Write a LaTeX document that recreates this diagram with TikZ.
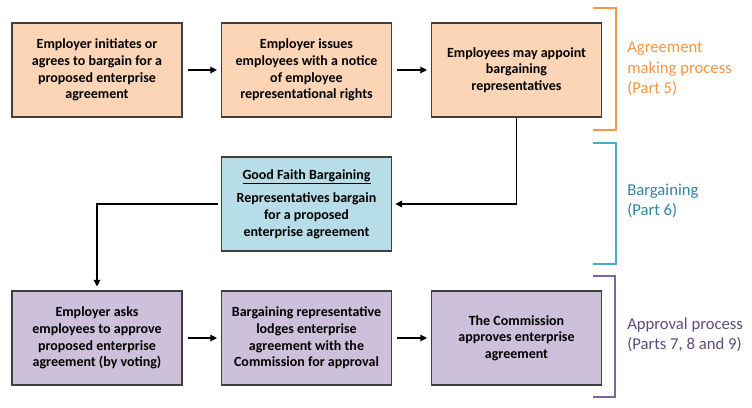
\documentclass[tikz,border=0pt]{standalone}
\usepackage{fontspec}
\setmainfont{Carlito}
\usetikzlibrary{arrows.meta}
\definecolor{peach}{HTML}{FBD5B5}
\definecolor{lblue}{HTML}{B7DEE8}
\definecolor{lpurple}{HTML}{CCC0DA}
\definecolor{orbr}{HTML}{F79646}
\definecolor{blbr}{HTML}{4BACC6}
\definecolor{bltx}{HTML}{31859C}
\definecolor{pubr}{HTML}{8064A2}
\definecolor{putx}{HTML}{604A7B}
\definecolor{edge}{HTML}{404040}
\tikzset{
  box/.style={draw=edge, line width=0.8pt, minimum width=127.5pt, minimum height=70.5pt,
    align=center, inner sep=0pt, font=\fontsize{10.5}{12.5}\selectfont\bfseries},
  conn/.style={line width=0.9pt, -{Triangle[length=5pt,width=5pt]}},
  brk/.style={line width=1.6pt},
  lbl/.style={anchor=west, align=left, inner sep=0pt, font=\fontsize{12.5}{15.4}\selectfont}
}
\begin{document}
\begin{tikzpicture}[x=0.75pt,y=-0.75pt]
\useasboundingbox (0,0) rectangle (752,407);
% top row
\node[box, fill=peach] (b1) at (97,70) {Employer initiates or\\agrees to bargain for a\\proposed enterprise\\agreement};
\node[box, fill=peach] (b2) at (306.5,70) {Employer issues\\employees with a notice\\of employee\\representational rights};
\node[box, fill=peach] (b3) at (516.5,70) {Employees may appoint\\bargaining\\representatives};
% middle
\node[box, fill=lblue] (gf) at (306.5,204) {\underline{Good Faith Bargaining}\\[5pt]Representatives bargain\\for a proposed\\enterprise agreement};
% bottom row
\node[box, fill=lpurple] (b4) at (97,338) {Employer asks\\employees to approve\\proposed enterprise\\agreement (by voting)};
\node[box, fill=lpurple] (b5) at (306.5,338) {Bargaining representative\\lodges enterprise\\agreement with the\\Commission for approval};
\node[box, fill=lpurple] (b6) at (516.5,338) {The Commission\\approves enterprise\\agreement};
% connectors
\draw[conn, shorten <=4pt, shorten >=3pt] (b1) -- (b2);
\draw[conn, shorten <=4pt, shorten >=3pt] (b2) -- (b3);
\draw[conn, shorten >=2.5pt] (b3.south) |- (gf.east);
\draw[conn, shorten <=2.5pt, shorten >=3pt] (gf.west) -| (b4.north);
\draw[conn, shorten <=4pt, shorten >=3pt] (b4) -- (b5);
\draw[conn, shorten <=4pt, shorten >=3pt] (b5) -- (b6);
% brackets
\coordinate (o1) at (593,8); \coordinate (o2) at (616,8); \coordinate (o3) at (616,130); \coordinate (o4) at (593,130);
\draw[brk, orbr] (o1) -- (o2) -- (o3) -- (o4);
\coordinate (c1) at (593,143); \coordinate (c2) at (616,143); \coordinate (c3) at (616,264); \coordinate (c4) at (593,264);
\draw[brk, blbr] (c1) -- (c2) -- (c3) -- (c4);
\coordinate (p1) at (593,276); \coordinate (p2) at (615,276); \coordinate (p3) at (615,397); \coordinate (p4) at (593,397);
\draw[brk, pubr] (p1) -- (p2) -- (p3) -- (p4);
% labels
\node[lbl, text=orbr] (t1) at (627,69) {Agreement\\making process\\(Part 5)};
\node[lbl, text=bltx] (t2) at (627,201) {Bargaining\\(Part 6)};
\node[lbl, text=putx] (t3) at (627,335) {Approval process\\(Parts 7, 8 and 9)};
\end{tikzpicture}
\end{document}
